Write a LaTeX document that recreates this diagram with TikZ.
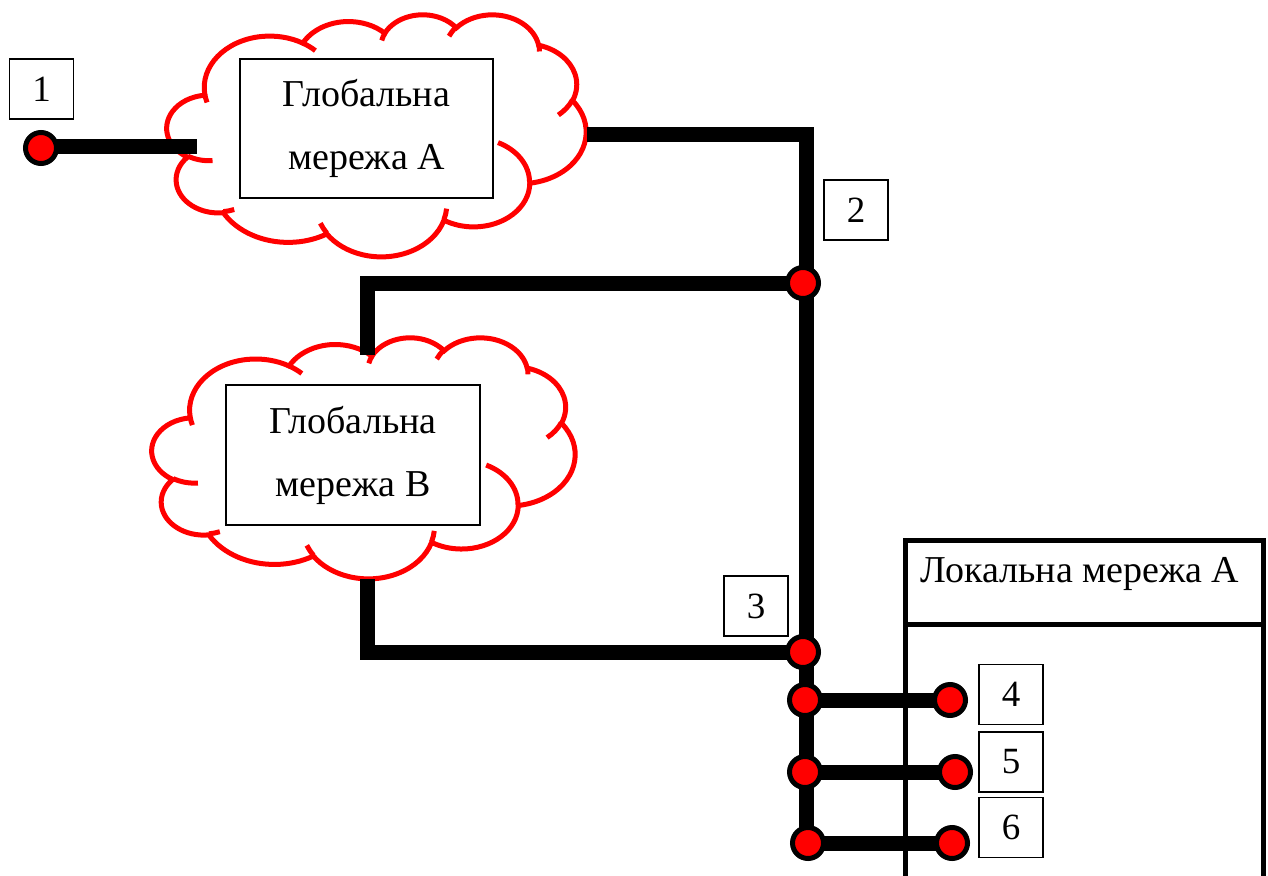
\documentclass[tikz,border=0pt]{standalone}
\usepackage{fontspec}
\setmainfont{Liberation Serif}
\definecolor{netred}{RGB}{255,0,0}

% Cloud outline built from elliptical arcs in a 432 x 432 unit box.
% Each arc is given by radii and visual start/sweep angles; the visual
% angles are turned into parametric ones for TikZ.
\newcommand\cldAngles[4]{%
  \pgfmathsetmacro\cldts{atan2(#1*sin(#3),#2*cos(#3))}%
  \pgfmathsetmacro\cldte{atan2(#1*sin(#3+#4),#2*cos(#3+#4))}%
  \pgfmathsetmacro\cldte{\cldte+360*((#4>0)*(\cldte<\cldts)-(#4<0)*(\cldte>\cldts))}}
\newcommand\cldArc[4]{\cldAngles{#1}{#2}{#3}{#4}%
  \xdef\cldPath{\cldPath arc[start angle=\cldts, end angle=\cldte, x radius=#1, y radius=#2]}}
\newcommand\cldStub[6]{\cldAngles{#3}{#4}{#5}{#6}%
  \xdef\cldStubs{\cldStubs (#1,#2) arc[start angle=\cldts, end angle=\cldte, x radius=#3, y radius=#4]}}
\def\cldPath{}
\def\cldStubs{}
\cldArc{67.53}{91.90}{-190.488}{123.781}
\cldArc{53.33}{72.67}{-144.102}{89.945}
\cldArc{43.65}{59.45}{-145.808}{99.723}
\cldArc{48.57}{65.95}{-130.986}{117.242}
\cldArc{53.33}{72.73}{-78.709}{109.027}
\cldArc{67.75}{92.20}{-46.267}{130.269}
\cldArc{57.85}{78.67}{0.625}{114.033}
\cldArc{67.52}{92.15}{22.452}{115.173}
\cldArc{77.20}{105.43}{66.243}{75.711}
\cldArc{43.60}{59.18}{-274.942}{146.736}
\cldArc{43.45}{59.45}{-246.829}{152.519}
\cldStub{46.93}{261.77}{43.45}{59.45}{86.742}{26.430}
\cldStub{69.28}{348.99}{43.60}{59.18}{73.610}{11.447}
\cldStub{164.78}{390.90}{67.52}{92.15}{137.624}{14.081}
\cldStub{288.27}{347.51}{67.52}{92.15}{6.453}{15.998}
\cldStub{341.29}{229.54}{57.85}{78.67}{-70.292}{70.917}
\cldStub{417.98}{153.54}{53.33}{72.73}{30.318}{27.752}
\cldStub{383.24}{54.26}{48.57}{65.95}{-13.744}{14.859}
\cldStub{290.78}{39.52}{48.57}{65.95}{-149.181}{18.195}
\cldStub{221.41}{47.20}{43.65}{59.45}{-163.494}{17.686}
\cldStub{140.00}{51.92}{67.53}{91.90}{-66.707}{12.319}
\cldStub{41.27}{157.89}{67.53}{91.90}{157.654}{11.858}

% \netcloud{left}{top}{width}{height}
\newcommand\netcloud[4]{%
  \pgfmathsetmacro\cldsx{#3/432}\pgfmathsetmacro\cldsy{#4/432}%
  \begin{scope}[xshift=#1pt, yshift=-#2pt, x=\cldsx pt, y=-\cldsy pt]
    \edef\cldDo{\noexpand\draw[cloudline, fill=white] (39.00,143.70) \cldPath -- cycle;}\cldDo
    \edef\cldDo{\noexpand\draw[cloudline] \cldStubs;}\cldDo
  \end{scope}}

\begin{document}
\begin{tikzpicture}[x=1pt,y=-1pt,
  cloudline/.style={draw=netred, line width=5pt},
  wire/.style={line width=15pt},
  netbox/.style={draw, fill=white, line width=1.2pt, align=center, inner sep=0pt,
    font=\fontsize{38}{63}\selectfont},
  numbox/.style={draw, line width=1.2pt, minimum width=64pt, minimum height=60pt,
    inner sep=0pt, font=\fontsize{37}{40}\selectfont},
  dot/.style={circle, draw=black, fill=netred, line width=5pt, minimum size=31pt, inner sep=0pt},
]
\useasboundingbox (0,0) rectangle (1268,875);

% global networks (outlines)
\netcloud{167}{14}{419}{242}
\netcloud{152}{337}{423}{241}

% junction points
\coordinate (a-in) at (197,146);
\coordinate (a-out) at (587,134);
\coordinate (b-top) at (367,355);
\coordinate (b-bot) at (367,579);

% wires
\draw[wire] (a-out) -- (806,134) -- (806,283);
\draw[wire] (806,283) -- (806,843);
\draw[wire] (806,283) -- (367,283) -- (b-top);
\draw[wire] (b-bot) -- (367,652) -- (806,652);
\draw[wire] (40,146) -- (a-in);
\draw[wire] (806,700) -- (950,700);
\draw[wire] (806,772) -- (955,772);
\draw[wire] (806,843) -- (952,843);

% global network titles
\node[netbox, minimum width=253pt, minimum height=139pt] (ga-box) at (366.5,128.5) {Глобальна\\мережа А};
\node[netbox, minimum width=254pt, minimum height=140pt] (gb-box) at (353,455) {Глобальна\\мережа В};

% local network
\draw[line width=5pt] (905.5,880) -- (905.5,540) -- (1263.5,540) -- (1263.5,880);
\draw[line width=5pt] (905.5,624) -- (1263.5,624);
\node[font=\fontsize{38}{40}\selectfont] (la) at (1080,574) {Локальна мережа А};

% terminals
\node[dot] (d1) at (41,148) {};
\node[dot] (j2) at (803,283) {};
\node[dot] (j3) at (803,652) {};
\node[dot] (j4) at (805,700) {};
\node[dot] (j5) at (805,772) {};
\node[dot] (j6) at (808,843) {};
\node[dot] (t4) at (950,700) {};
\node[dot] (t5) at (955,772) {};
\node[dot] (t6) at (952,843) {};

% labels
\node[numbox] (n1) at (41.5,89) {1};
\node[numbox] (n2) at (856,210) {2};
\node[numbox] (n3) at (756,606) {3};
\node[numbox] (n4) at (1011,694.5) {4};
\node[numbox] (n5) at (1011,762) {5};
\node[numbox] (n6) at (1011,827.5) {6};
\end{tikzpicture}
\end{document}
